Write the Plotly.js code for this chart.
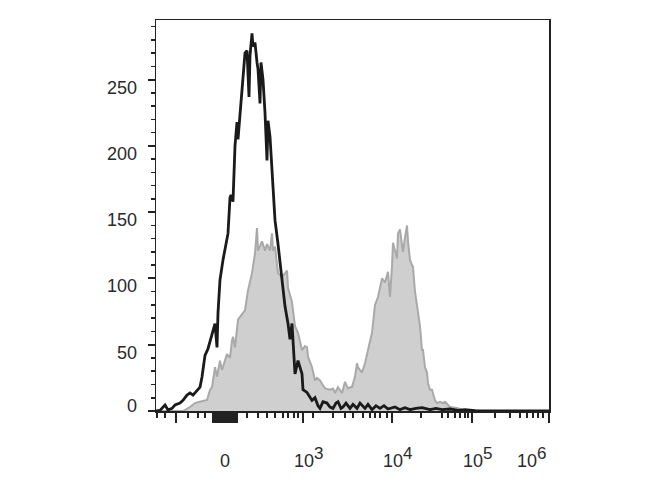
<!DOCTYPE html>
<html><head><meta charset="utf-8">
<script src="https://cdn.plot.ly/plotly-3.0.1.min.js"></script>
<style>html,body{margin:0;padding:0;background:#fff}</style>
</head><body><div id="chart" style="width:670px;height:500px"></div>
<script>
// Display channel (biexponential scale) vs. event count
const blackX = [0,10,22.5,30,40,47.5,60,67.5,77.5,85,92.5,102.5,110,115,117.5,122.5,130,135,142.5,147.5,152.5,155,160,167.5,180,185,187.5,192.5,197.5,202.5,205,215,222.5,227.5,232.5,235,240,242.5,247.5,252.5,255,260,262.5,267.5,272.5,277.5,280,285,290,292.5,297.5,305,315,322.5,330,335,340,342.5,347.5,355,365,367.5,377.5,390,397.5,405,410,417.5,427.5,435,442.5,450,455,462.5,467.5,475,485,492.5,502.5,510,522.5,530,540,550,560,570,580,597.5,610,622.5,635,650,665,685,700,715,735,755,772.5,797.5,860,982.5];
const blackY = [0,0.5,4.5,0.8,2,4.5,6,8,12,13.6,12,15.9,18,25.7,31,42,47,53,61,66,48,74,99,114,134,161,163,158,200,218,205,245,270,272,237,268,285,275,278,263,258,232,263,250,225,189,219,207,182,162,144,126,97,79,66,54,66,51,28,38,28,16,14,8,10,4,2,7,6,3,2,6,7,2,3,6,2,5,2,6,2,5,1,4,2,4,1.5,3,1,2.5,1,2,2.5,1,2,1,1.5,0.5,1,0.3,0,0];

const grayX = [0,67.5,85,97.5,110,127.5,135,140,147.5,152.5,160,165,177.5,185,190,192.5,197.5,205,210,217.5,222.5,230,240,247.5,252.5,255,265,272.5,277.5,285,290,292.5,297.5,305,315,327.5,330,340,347.5,355,365,372.5,377.5,380,390,397.5,402.5,410,422.5,435,442.5,447.5,455,465,472.5,480,485,490,497.5,502.5,505,515,522.5,530,540,547.5,552.5,555,565,572.5,580,585,590,592.5,597.5,602.5,605,610,615,617.5,622.5,627.5,630,635,640,642.5,647.5,652.5,655,660,665,667.5,672.5,677.5,680,685,690,697.5,702.5,710,717.5,722.5,735,752.5,767.5,785,810,982.5];
const grayY = [0,0,3,6,7,8.3,15.9,18,33,26,38,31,43,40,53,56,48,69,71,74,76,91,104,119,138,121,128,121,126,121,134,121,124,104,101,106,93,82,64,59,46,49,48,41,33,23,25,23,17,16,17,13.6,18,13.6,22,17,18,18,26,36,33,29,36,46,59,80,85,86,100,97,105,86,109,127,121,115,134,137,125,120,131,140,128,114,110,109,90,80,76,64,46,46,33,29,21,16,16,8,6,7,6,7,3,2.3,0.8,0.3,0,0];

// Axis ticks (display channel positions)
const xLabelVals = [172.5, 367.5, 590, 790, 982.5];
const xLabelBase = ['0', '10', '10', '10', '10'];
const xLabelExp  = ['', '3', '4', '5', '6'];
const xMajorTicks = [50,142.5,147.5,152.5,157.5,162.5,167.5,172.5,177.5,182.5,187.5,192.5,197.5,202.5,367.5,590,790,982.5];
const xMinorTicks = [2.5,22.5,80,105,122.5,227.5,255,277.5,297.5,317.5,330,345,355,392.5,442.5,472.5,492.5,517.5,535,547.5,560,577.5,662.5,715,730,747.5,760,772.5,780,847.5,885,910,927.5,942.5,955,967.5];
const yLabelVals = [0, 50, 100, 150, 200, 250];

const labelFont = {family: 'Liberation Sans, Arial, sans-serif', size: 18, color: '#2a2a2a'};

const annotations = [];
xLabelVals.forEach((v, i) => {
  const last = i === xLabelVals.length - 1;
  const text = xLabelExp[i]
    ? xLabelBase[i] + '<sup><span style="font-size:17px">' + xLabelExp[i] + '</span></sup>'
    : xLabelBase[i];
  annotations.push({
    x: v, xref: 'x', y: 0, yref: 'paper', text: text, showarrow: false,
    xanchor: i === 0 ? 'center' : (last ? 'right' : 'left'),
    xshift: i === 0 ? 0 : (last ? 0 : -11),
    yanchor: 'bottom', yshift: -62, font: labelFont
  });
});
yLabelVals.forEach(v => {
  annotations.push({
    x: 0, xref: 'paper', y: v, yref: 'y', text: String(v), showarrow: false,
    xanchor: 'right', xshift: -17, yanchor: 'middle', yshift: v === 0 ? 5 : -8,
    font: labelFont
  });
});

const traces = [
  {x: grayX, y: grayY, type: 'scatter', mode: 'lines', fill: 'tozeroy',
   fillcolor: '#cfcfcf', line: {color: '#a9a9a9', width: 2}, hoverinfo: 'skip'},
  {x: blackX, y: blackY, type: 'scatter', mode: 'lines',
   line: {color: '#1a1a1a', width: 2.8}, hoverinfo: 'skip'}
];

const layout = {
  width: 670, height: 500,
  margin: {l: 156, r: 121, t: 20, b: 89},
  paper_bgcolor: '#ffffff', plot_bgcolor: '#ffffff',
  showlegend: false,
  xaxis: {
    range: [0, 982.5], showgrid: false, zeroline: false,
    showline: true, linecolor: '#222', linewidth: 1.5, mirror: true,
    tickmode: 'array', tickvals: xMajorTicks, ticktext: xMajorTicks.map(() => ''),
    ticks: 'outside', ticklen: 10, tickwidth: 1.6, tickcolor: '#222',
    showticklabels: false,
    minor: {tickmode: 'array', tickvals: xMinorTicks, ticks: 'outside', ticklen: 5, tickwidth: 1.5, tickcolor: '#222', showgrid: false}
  },
  yaxis: {
    range: [0, 295], showgrid: false, zeroline: false,
    showline: true, linecolor: '#222', linewidth: 1.5, mirror: true,
    tickmode: 'array', tickvals: yLabelVals,
    ticks: 'outside', ticklen: 7, tickwidth: 2, tickcolor: '#222',
    showticklabels: false,
    minor: {tickmode: 'linear', tick0: 0, dtick: 10, ticks: 'outside', ticklen: 4, tickwidth: 1.5, tickcolor: '#222', showgrid: false}
  },
  annotations: annotations
};

Plotly.newPlot('chart', traces, layout, {displayModeBar: false, staticPlot: true});
</script>
</body></html>
